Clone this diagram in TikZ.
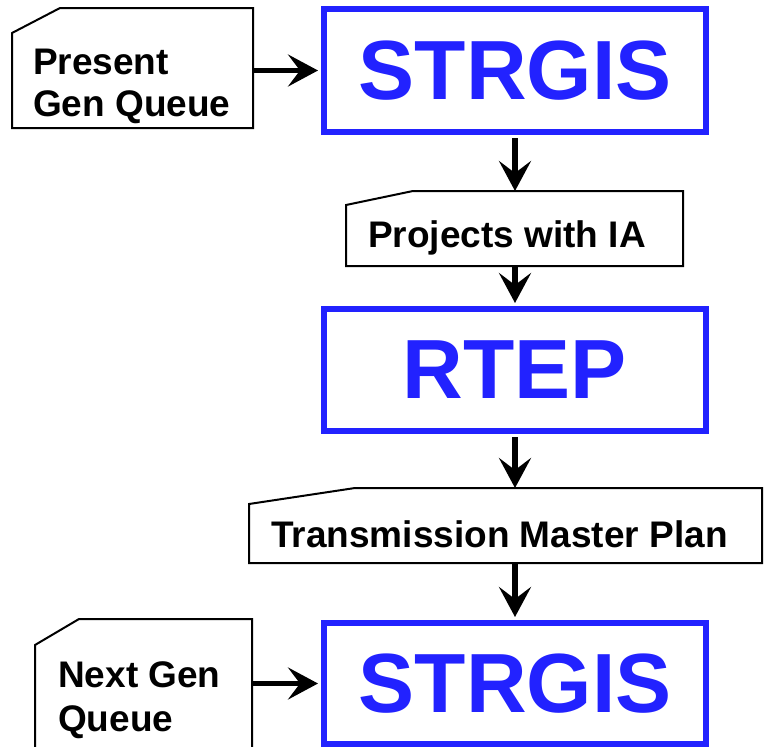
\documentclass[tikz,border=0pt]{standalone}
\usepackage{fontspec}
\setmainfont{Liberation Sans}
\usetikzlibrary{arrows.meta}
\definecolor{boxblue}{RGB}{34,34,255}
\begin{document}
\begin{tikzpicture}[x=1pt,y=-1pt,
  procbox/.style={draw=boxblue, line width=6pt, text=boxblue,
    font=\fontsize{84}{90}\selectfont\bfseries,
    minimum width=382pt, inner sep=0pt},
  cardarea/.style={inner sep=0pt, outer sep=0pt},
  cardline/.style={draw=black, line width=2pt, fill=white, line join=miter},
  cardtext/.style={anchor=base west, inner sep=0pt,
    font=\fontsize{37}{42}\selectfont\bfseries},
  flow/.style={line width=5.5pt,
    -{Stealth[length=30pt,width=32pt,inset=12pt]}},
  intobox/.style={shorten >=3pt},
  outofbox/.style={shorten <=3pt}
]
\useasboundingbox (0,0) rectangle (766,747);

% process boxes
\node[procbox, minimum height=123pt] (b1) at (515,70.5) {STRGIS};
\node[procbox, minimum height=122pt] (b2) at (515,370) {RTEP};
\node[procbox, minimum height=121pt] (b3) at (515,683.5) {STRGIS};

% data cards (areas, outlines drawn with a cut top-left corner)
\node[cardarea, minimum width=241pt, minimum height=120pt] (c1) at (132.5,68) {};
\node[cardarea, minimum width=337pt, minimum height=75pt] (c2) at (514.5,228.5) {};
\node[cardarea, minimum width=513pt, minimum height=75pt] (c3) at (505.5,525.5) {};
\node[cardarea, minimum width=217pt, minimum height=151pt] (c4) at (143.5,694.5) {};

\draw[cardline] (c1.south west) -- (c1.south east) -- (c1.north east)
  -- ([xshift=48pt]c1.north west) -- ([yshift=-25pt]c1.north west) -- cycle;
\draw[cardline] (c2.south west) -- (c2.south east) -- (c2.north east)
  -- ([xshift=67pt]c2.north west) -- ([yshift=-14pt]c2.north west) -- cycle;
\draw[cardline] (c3.south west) -- (c3.south east) -- (c3.north east)
  -- ([xshift=106pt]c3.north west) -- ([yshift=-16pt]c3.north west) -- cycle;
\draw[cardline] (c4.south west) -- (c4.south east) -- (c4.north east)
  -- ([xshift=44pt]c4.north west) -- ([yshift=-26pt]c4.north west) -- cycle;

% card texts
\node[cardtext] (t1a) at (33,74) {Present};
\node[cardtext] (t1b) at (33,116) {Gen Queue};
\node[cardtext] (t2) at (368,247) {Projects with IA};
\node[cardtext] (t3) at (271,547) {Transmission Master Plan};
\node[cardtext] (t4a) at (58,687) {Next Gen};
\node[cardtext] (t4b) at (58,731) {Queue};

% flow
\draw[flow, intobox] (c1.east |- b1.west) -- (b1.west);
\draw[flow, outofbox] (b1.south) -- (b1.south |- c2.north);
\draw[flow, intobox] (c2.south -| b2.north) -- (b2.north);
\draw[flow, outofbox] (b2.south) -- (b2.south |- c3.north);
\draw[flow, intobox] (c3.south -| b3.north) -- (b3.north);
\draw[flow, intobox] (c4.east |- b3.west) -- (b3.west);
\end{tikzpicture}
\end{document}
